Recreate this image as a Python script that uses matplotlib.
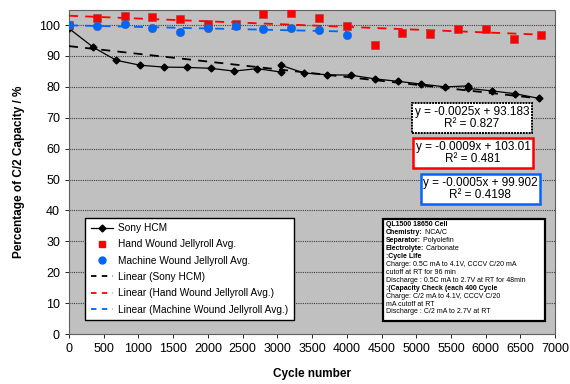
import matplotlib
matplotlib.use("Agg")
import matplotlib.pyplot as plt
import numpy as np
from matplotlib.lines import Line2D
from matplotlib.patches import Rectangle

plt.rcParams["font.family"] = ["Liberation Sans", "DejaVu Sans"]

# ── data ──────────────────────────────────────────────────────────────────────
sony_cycles = [0, 350, 680, 1025, 1365, 1700, 2040, 2375, 2710, 3050, 3050,
               3380, 3720, 4055, 4400, 4730, 5075, 5410, 5750, 5750, 6085,
               6420, 6760]
sony_pct = [98.9, 92.8, 88.6, 87.0, 86.4, 86.3, 86.0, 85.1, 85.9, 84.8, 87.0,
            84.5, 83.9, 83.8, 82.6, 81.8, 80.9, 80.0, 80.3, 79.5, 78.7,
            77.8, 76.3]

hand_cycles = [0, 400, 800, 1200, 1600, 2000, 2400, 2800, 3200, 3600, 4000,
               4400, 4800, 5200, 5600, 6000, 6400, 6800]
hand_pct = [100.0, 102.4, 102.9, 102.5, 102.0, 100.5, 100.5, 103.6, 103.9,
            102.2, 99.8, 93.7, 97.5, 97.1, 98.7, 98.7, 95.5, 96.7]

machine_cycles = [0, 400, 800, 1200, 1600, 2000, 2400, 2800, 3200, 3600, 4000]
machine_pct = [100.0, 99.6, 100.4, 98.9, 97.8, 99.0, 99.8, 98.6, 98.9, 98.4, 96.7]

# linear trend fits (slope, intercept, R²)
sony_fit = (-0.0025, 93.183, 0.827)
hand_fit = (-0.0009, 103.01, 0.481)
machine_fit = (-0.0005, 99.902, 0.4198)

info_lines = [
    ("QL1500 18650 Cell", ""),
    ("Chemistry:", " NCA/C"),
    ("Separator:", " Polyolefin"),
    ("Electrolyte:", " Carbonate"),
    (":Cycle Life", ""),
    ("", "Charge: 0.5C mA to 4.1V, CCCV C/20 mA"),
    ("", "cutoff at RT for 96 min"),
    ("", "Discharge : 0.5C mA to 2.7V at RT for 48min"),
    (":(Capacity Check (each 400 Cycle", ""),
    ("", "Charge: C/2 mA to 4.1V, CCCV C/20"),
    ("", "mA cutoff at RT"),
    ("", "Discharge : C/2 mA to 2.7V at RT"),
]

RED = "#FF0000"
BLUE = "#0066FF"

# ── figure ────────────────────────────────────────────────────────────────────
fig = plt.figure(figsize=(5.7, 3.84), dpi=100)
ax = fig.add_axes([0.121, 0.130, 0.853, 0.845])
ax.set_facecolor("#C0C0C0")

for y in range(10, 101, 10):
    ax.axhline(y, color="#404040", lw=0.8, ls=(0, (1, 1)), zorder=1)

ax.plot(sony_cycles, sony_pct, color="black", lw=0.9, marker="D",
        markersize=3.5, zorder=4)
ax.plot(hand_cycles, hand_pct, ls="none", marker="s", markersize=5.2,
        color=RED, markeredgecolor="#A04040", markeredgewidth=0.4, zorder=4)
ax.plot(machine_cycles, machine_pct, ls="none", marker="o", markersize=6,
        color=BLUE, markeredgecolor="#3060A0", markeredgewidth=0.4, zorder=5)

# trend lines drawn from the stated fit equations
def trend(ax, cycles, fit, color):
    xs = np.array([cycles[0], cycles[-1]])
    ax.plot(xs, fit[0] * xs + fit[1], color=color, lw=1.3,
            ls=(0, (5, 4)), zorder=3)

trend(ax, sony_cycles, sony_fit, "black")
trend(ax, hand_cycles, hand_fit, RED)
trend(ax, machine_cycles, machine_fit, BLUE)

ax.set_xlim(0, 7000)
ax.set_ylim(0, 105)
ax.set_xticks(range(0, 7001, 500))
ax.set_yticks(range(0, 101, 10))
ax.tick_params(labelsize=9, length=3, width=0.6, colors="black")

for side in ["top", "right", "left", "bottom"]:
    ax.spines[side].set_linestyle((0, (1, 1)))
    ax.spines[side].set_color("#606060")
    ax.spines[side].set_linewidth(0.8)

ax.set_xlabel("Cycle number", fontsize=8.5, fontweight="bold", labelpad=9)
ax.set_ylabel("Percentage of C/2 Capacity / %", fontsize=8.5,
              fontweight="bold", labelpad=10)

# equation boxes
def eq_text(fit):
    return f"y = {fit[0]:.4f}x + {fit[1]:g}\nR² = {fit[2]:g}"

ax.text(0.829, 0.666, eq_text(sony_fit), transform=ax.transAxes,
        ha="center", va="center", fontsize=8.5, linespacing=1.1, zorder=6,
        bbox=dict(boxstyle="square,pad=0.2", fc="white", ec="black",
                  lw=1.4, ls=(0, (1, 0.5))))
ax.text(0.831, 0.558, eq_text(hand_fit), transform=ax.transAxes,
        ha="center", va="center", fontsize=8.5, linespacing=1.1, zorder=6,
        bbox=dict(boxstyle="square,pad=0.2", fc="white", ec=RED, lw=1.8))
ax.text(0.846, 0.447, eq_text(machine_fit), transform=ax.transAxes,
        ha="center", va="center", fontsize=8.5, linespacing=1.1, zorder=6,
        bbox=dict(boxstyle="square,pad=0.2", fc="white", ec=BLUE, lw=1.8))

# legend
handles = [
    Line2D([], [], color="black", lw=0.9, marker="D", markersize=3.5),
    Line2D([], [], ls="none", marker="s", markersize=5, color=RED),
    Line2D([], [], ls="none", marker="o", markersize=5, color=BLUE),
    Line2D([], [], color="black", lw=1.3, ls=(0, (3, 3))),
    Line2D([], [], color=RED, lw=1.3, ls=(0, (3, 3))),
    Line2D([], [], color=BLUE, lw=1.3, ls=(0, (3, 3))),
]
labels = ["Sony HCM", "Hand Wound Jellyroll Avg.", "Machine Wound Jellyroll Avg.",
          "Linear (Sony HCM)", "Linear (Hand Wound Jellyroll Avg.)",
          "Linear (Machine Wound Jellyroll Avg.)"]
leg = ax.legend(handles, labels, loc="lower left", bbox_to_anchor=(0.033, 0.043),
                fontsize=7.3, frameon=True, fancybox=False, framealpha=1,
                handlelength=2.2, labelspacing=0.62, borderpad=0.55,
                handletextpad=0.5, borderaxespad=0)
leg.get_frame().set_edgecolor("black")
leg.get_frame().set_linewidth(1.0)
leg.set_zorder(7)

# cell info box
ax.add_patch(Rectangle((0.646, 0.040), 0.333, 0.314, transform=ax.transAxes,
                       fc="white", ec="black", lw=1.6, zorder=6))
y0 = 0.333
dy = 0.0245
for i, (bold, regular) in enumerate(info_lines):
    ypos = y0 - i * dy
    if bold:
        t = ax.text(0.652, ypos, bold, transform=ax.transAxes, fontsize=5.0,
                    fontweight="bold", va="baseline", zorder=7)
        if regular:
            ax.annotate(regular, xy=(1, 0), xycoords=t, fontsize=5.0,
                        va="bottom", zorder=7)
    else:
        ax.text(0.652, ypos, regular, transform=ax.transAxes, fontsize=5.0,
                va="baseline", zorder=7)

fig.savefig("out.png", dpi=100)
